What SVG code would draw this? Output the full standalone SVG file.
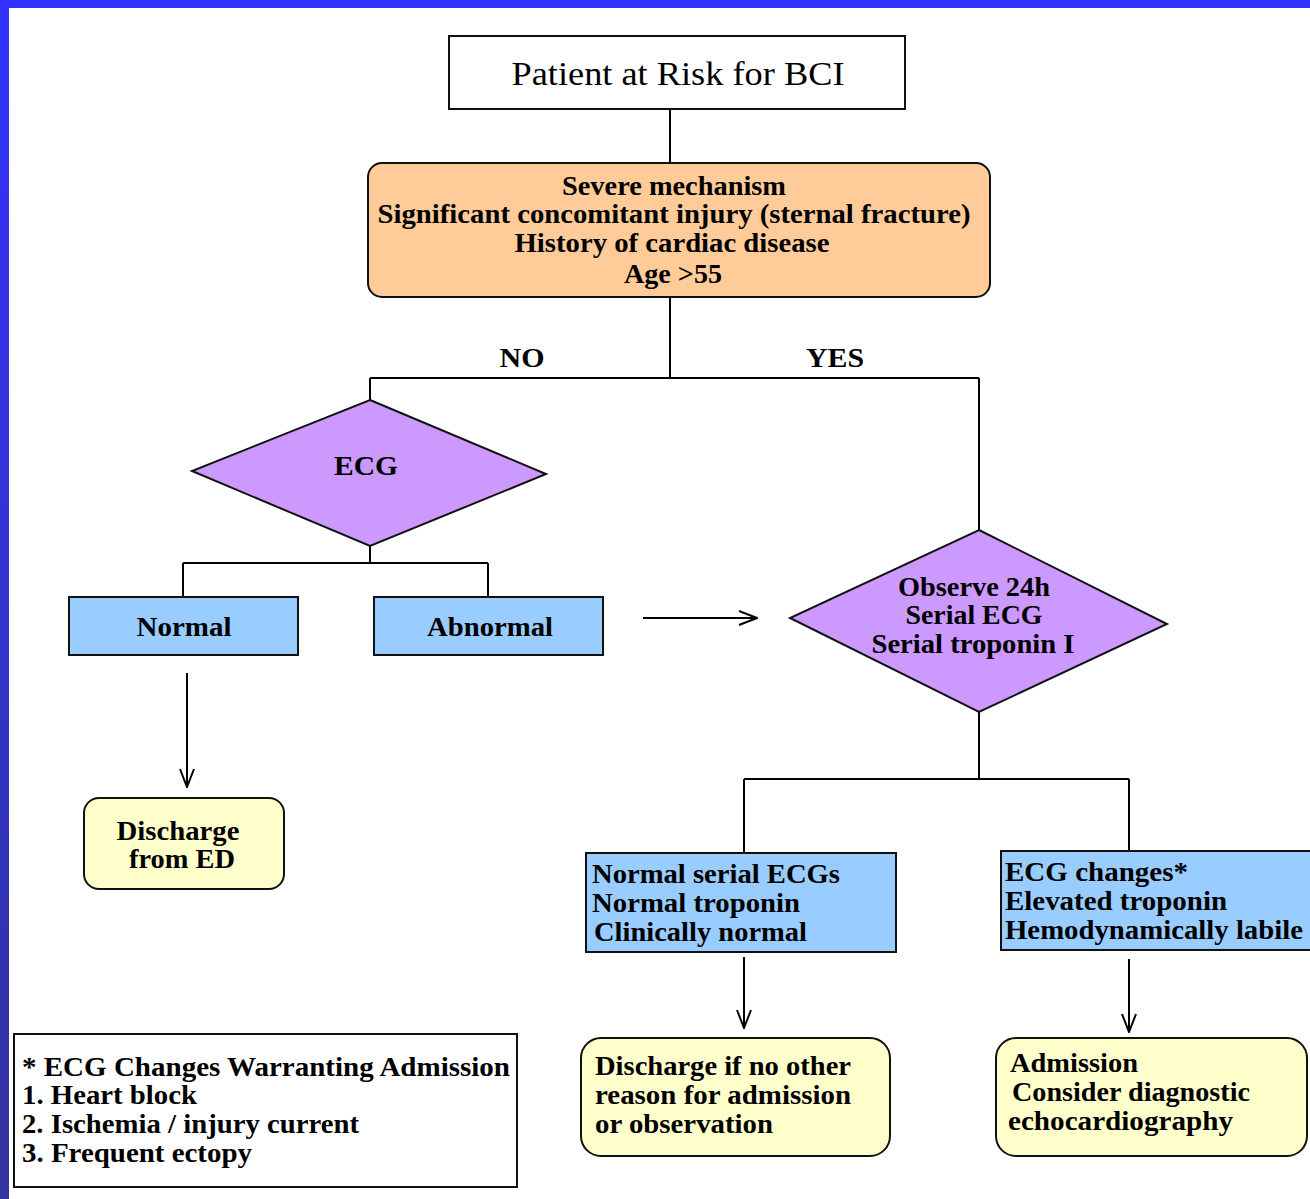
<svg xmlns="http://www.w3.org/2000/svg" width="1310" height="1199" viewBox="0 0 1310 1199">
<defs>
<linearGradient id="lg" x1="0" y1="0" x2="0" y2="1">
<stop offset="0" stop-color="#3333ff"/>
<stop offset="1" stop-color="#33339c"/>
</linearGradient>
<marker id="arr" viewBox="0 0 20 16" refX="19" refY="8" markerWidth="20" markerHeight="16" markerUnits="userSpaceOnUse" orient="auto">
<path d="M1,1 L19,8 L1,15" fill="none" stroke="#000" stroke-width="2"/>
</marker>
<style>
.t{font-family:"Liberation Serif","Times New Roman",serif;font-size:28px;font-weight:bold;fill:#000}
.c{text-anchor:middle}
.box{stroke:#111;stroke-width:2}
.w{fill:#fff}
.or{fill:#ffcc99}
.pu{fill:#cc99ff}
.bl{fill:#99ccff}
.ye{fill:#ffffcc}
.ln{fill:none;stroke:#000;stroke-width:2}
</style>
</defs>
<rect width="1310" height="1199" fill="#fff"/>
<rect x="0" y="0" width="1310" height="8" fill="#3333ff"/>
<rect x="0" y="0" width="9" height="1199" fill="url(#lg)"/>

<g id="connectors">
<path class="ln" d="M670,109 V163"/>
<path class="ln" d="M670,297 V378 M370,378 H979 M370,378 V400 M979,378 V530"/>
<path class="ln" d="M370,546 V563 M183,563 H488 M183,563 V597 M488,563 V597"/>
<path class="ln" d="M979,712 V779 M744,779 H1129 M744,779 V853 M1129,779 V851"/>
<path class="ln" d="M643,618 H757" marker-end="url(#arr)"/>
<path class="ln" d="M187,673 V787" marker-end="url(#arr)"/>
<path class="ln" d="M744,957 V1028" marker-end="url(#arr)"/>
<path class="ln" d="M1129,959 V1032" marker-end="url(#arr)"/>
<text class="t c" x="522" y="367" textLength="45" lengthAdjust="spacingAndGlyphs">NO</text>
<text class="t c" x="835" y="367" textLength="58" lengthAdjust="spacingAndGlyphs">YES</text>
</g>

<g id="patient">
<rect class="box w" x="449" y="36" width="456" height="73"/>
<text class="t c" x="678" y="85" style="font-size:33px;font-weight:normal" textLength="333" lengthAdjust="spacingAndGlyphs">Patient at Risk for BCI</text>
</g>

<g id="criteria">
<rect class="box or" x="368" y="163" width="622" height="134" rx="14"/>
<text class="t c" x="674" y="195" textLength="224" lengthAdjust="spacingAndGlyphs">Severe mechanism</text>
<text class="t c" x="674" y="223" textLength="593" lengthAdjust="spacingAndGlyphs">Significant concomitant injury (sternal fracture)</text>
<text class="t c" x="672" y="252" textLength="315" lengthAdjust="spacingAndGlyphs">History of cardiac disease</text>
<text class="t c" x="673" y="283" textLength="98" lengthAdjust="spacingAndGlyphs">Age &gt;55</text>
</g>

<g id="ecg">
<polygon class="box pu" points="370,400 546,474 370,546 192,471"/>
<text class="t c" x="366" y="475" textLength="64" lengthAdjust="spacingAndGlyphs">ECG</text>
</g>

<g id="normal">
<rect class="box bl" x="69" y="597" width="229" height="58"/>
<text class="t c" x="184" y="636" textLength="95" lengthAdjust="spacingAndGlyphs">Normal</text>
</g>

<g id="abnormal">
<rect class="box bl" x="374" y="597" width="229" height="58"/>
<text class="t c" x="490" y="636" textLength="126" lengthAdjust="spacingAndGlyphs">Abnormal</text>
</g>

<g id="discharge-ed">
<rect class="box ye" x="84" y="798" width="200" height="91" rx="15"/>
<text class="t c" x="178" y="840" textLength="123" lengthAdjust="spacingAndGlyphs">Discharge</text>
<text class="t c" x="182" y="868" textLength="106" lengthAdjust="spacingAndGlyphs">from ED</text>
</g>

<g id="observe">
<polygon class="box pu" points="979,530 1167,624 979,712 790,618"/>
<text class="t c" x="974" y="596" textLength="152" lengthAdjust="spacingAndGlyphs">Observe 24h</text>
<text class="t c" x="974" y="624" textLength="137" lengthAdjust="spacingAndGlyphs">Serial ECG</text>
<text class="t c" x="973" y="653" textLength="203" lengthAdjust="spacingAndGlyphs">Serial troponin I</text>
</g>

<g id="normal-serial">
<rect class="box bl" x="586" y="853" width="310" height="99"/>
<text class="t" x="592" y="883" textLength="248" lengthAdjust="spacingAndGlyphs">Normal serial ECGs</text>
<text class="t" x="592" y="912" textLength="208" lengthAdjust="spacingAndGlyphs">Normal troponin</text>
<text class="t" x="594" y="941" textLength="213" lengthAdjust="spacingAndGlyphs">Clinically normal</text>
</g>

<g id="ecg-changes">
<rect class="box bl" x="1001" y="851" width="312" height="99"/>
<text class="t" x="1005" y="881" textLength="183" lengthAdjust="spacingAndGlyphs">ECG changes*</text>
<text class="t" x="1005" y="910" textLength="222" lengthAdjust="spacingAndGlyphs">Elevated troponin</text>
<text class="t" x="1005" y="939" textLength="298" lengthAdjust="spacingAndGlyphs">Hemodynamically labile</text>
</g>

<g id="discharge-if">
<rect class="box ye" x="581" y="1038" width="309" height="118" rx="20"/>
<text class="t" x="595" y="1075" textLength="256" lengthAdjust="spacingAndGlyphs">Discharge if no other</text>
<text class="t" x="595" y="1104" textLength="256" lengthAdjust="spacingAndGlyphs">reason for admission</text>
<text class="t" x="595" y="1133" textLength="178" lengthAdjust="spacingAndGlyphs">or observation</text>
</g>

<g id="admission">
<rect class="box ye" x="996" y="1038" width="311" height="118" rx="20"/>
<text class="t" x="1010" y="1072" textLength="128" lengthAdjust="spacingAndGlyphs">Admission</text>
<text class="t" x="1012" y="1101" textLength="238" lengthAdjust="spacingAndGlyphs">Consider diagnostic</text>
<text class="t" x="1008" y="1130" textLength="225" lengthAdjust="spacingAndGlyphs">echocardiography</text>
</g>

<g id="legend">
<rect class="box w" x="14" y="1034" width="503" height="153"/>
<text class="t" x="22" y="1076" textLength="488" lengthAdjust="spacingAndGlyphs">* ECG Changes Warranting Admission</text>
<text class="t" x="22" y="1104" textLength="175" lengthAdjust="spacingAndGlyphs">1. Heart block</text>
<text class="t" x="22" y="1133" textLength="337" lengthAdjust="spacingAndGlyphs">2. Ischemia / injury current</text>
<text class="t" x="22" y="1162" textLength="230" lengthAdjust="spacingAndGlyphs">3. Frequent ectopy</text>
</g>
</svg>
